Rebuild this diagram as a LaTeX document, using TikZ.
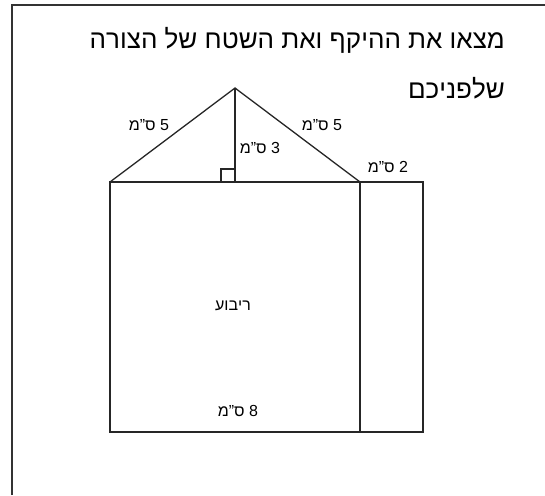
\documentclass[tikz,border=0pt]{standalone}
\usepackage{fontspec}
\setmainfont{Liberation Sans}
\TeXXeTstate=1
\begin{document}
\begin{tikzpicture}[x=1pt,y=-1pt,
  outl/.style={draw=black!85,line width=1.3pt},
  lbl/.style={inner sep=0pt,font=\fontsize{16}{18}\selectfont},
  ttl/.style={inner sep=0pt,font=\fontsize{26}{30}\selectfont,anchor=east}]
\useasboundingbox (0,0) rectangle (545,495);
\draw[black!80,line width=1.4pt] (12,495) -- (12,5) -- (545,5);
\coordinate (A) at (110,182);
\coordinate (B) at (360,182);
\coordinate (C) at (423,182);
\coordinate (D) at (423,432);
\coordinate (E) at (360,432);
\coordinate (F) at (110,432);
\coordinate (T) at (235,88);
\coordinate (H) at (235,182);
\draw[outl] (A) rectangle (E);
\draw[outl] (B) -- (C) -- (D) -- (E);
\draw[outl] (A) -- (T) -- (B);
\draw[outl] (T) -- (H);
\draw[outl] (221,182) -- (221,169) -- (235,169);
\node[ttl] (t1) at (505,40) {\beginR מצאו את ההיקף ואת השטח של הצורה\endR};
\node[ttl] (t2) at (505,88) {\beginR שלפניכם\endR};
\node[lbl] (l1) at (149,125) {\beginR 5 ס"מ\endR};
\node[lbl] (l2) at (322,125) {\beginR 5 ס"מ\endR};
\node[lbl] (l3) at (260,148) {\beginR 3 ס"מ\endR};
\node[lbl] (l4) at (388,167) {\beginR 2 ס"מ\endR};
\node[lbl] (l5) at (233,306) {\beginR ריבוע\endR};
\node[lbl] (l6) at (238,411) {\beginR 8 ס"מ\endR};
\end{tikzpicture}
\end{document}
